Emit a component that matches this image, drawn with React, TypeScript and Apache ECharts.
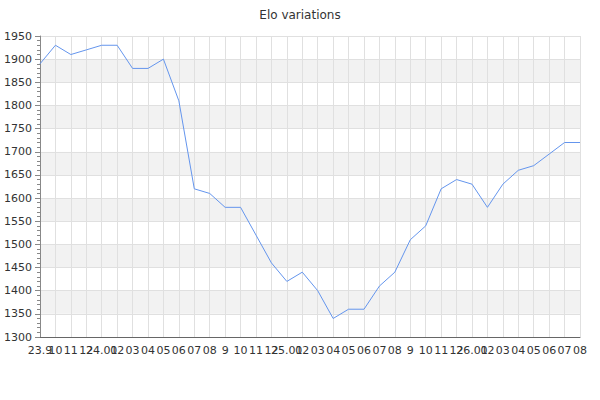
import React, { useEffect, useRef } from "react";
import * as echarts from "echarts";

const categories: string[] = [
  "23.9", "10", "11", "12",
  "24.01", "02", "03", "04", "05", "06", "07", "08", "9", "10", "11", "12",
  "25.01", "02", "03", "04", "05", "06", "07", "08", "9", "10", "11", "12",
  "26.01", "02", "03", "04", "05", "06", "07", "08",
];

const eloValues: number[] = [
  1890, 1930, 1910, 1920, 1930, 1930, 1880, 1880, 1900, 1810, 1620, 1610,
  1580, 1580, 1520, 1460, 1420, 1440, 1400, 1340, 1360, 1360, 1410, 1440,
  1510, 1540, 1620, 1640, 1630, 1580, 1630, 1660, 1670, 1695, 1720, 1720,
];

const titleText = "Elo variations";
const seriesName = "Elo";

export default function App() {
  const ref = useRef<HTMLDivElement>(null);
  useEffect(() => {
    if (!ref.current) return;
    const chart = echarts.init(ref.current, undefined, { renderer: "svg" });
    const font = "DejaVu Sans";
    chart.setOption({
      animation: false,
      backgroundColor: "#ffffff",
      title: {
        text: titleText,
        left: "center",
        top: 4,
        textStyle: { fontFamily: font, fontSize: 12, fontWeight: "normal", color: "#333" },
      },
      grid: { left: 40, right: 20, top: 36, bottom: 63, containLabel: false },
      xAxis: {
        type: "category",
        data: categories,
        boundaryGap: false,
        axisLine: { lineStyle: { color: "#666", width: 1 } },
        axisTick: { show: false },
        axisLabel: {
          interval: 0,
          fontFamily: font,
          fontSize: 11,
          color: "#333",
          margin: 8,
        },
        splitLine: { show: true, lineStyle: { color: "#e0e0e0", width: 1 } },
      },
      yAxis: {
        type: "value",
        min: 1300,
        max: 1950,
        interval: 50,
        axisLine: { show: true, lineStyle: { color: "#888", width: 1 } },
        axisTick: { show: true, length: 5, lineStyle: { color: "#888" } },
        minorTick: { show: true, splitNumber: 5, length: 3, lineStyle: { color: "#888" } },
        axisLabel: {
          fontFamily: font,
          fontSize: 11,
          color: "#333",
          margin: 8,
          formatter: (v: number) => String(v),
        },
        splitLine: { show: true, lineStyle: { color: "#e0e0e0", width: 1 } },
        splitArea: { show: true, areaStyle: { color: ["#ffffff", "#f2f2f2"] } },
      },
      series: [
        {
          name: seriesName,
          type: "line",
          data: eloValues,
          showSymbol: false,
          symbol: "none",
          lineStyle: { color: "#6495ed", width: 1 },
          itemStyle: { color: "#6495ed" },
        },
      ],
    });
    return () => chart.dispose();
  }, []);
  return (
    <div
      ref={ref}
      style={{ position: "absolute", left: 0, top: 0, width: 600, height: 400 }}
    />
  );
}
